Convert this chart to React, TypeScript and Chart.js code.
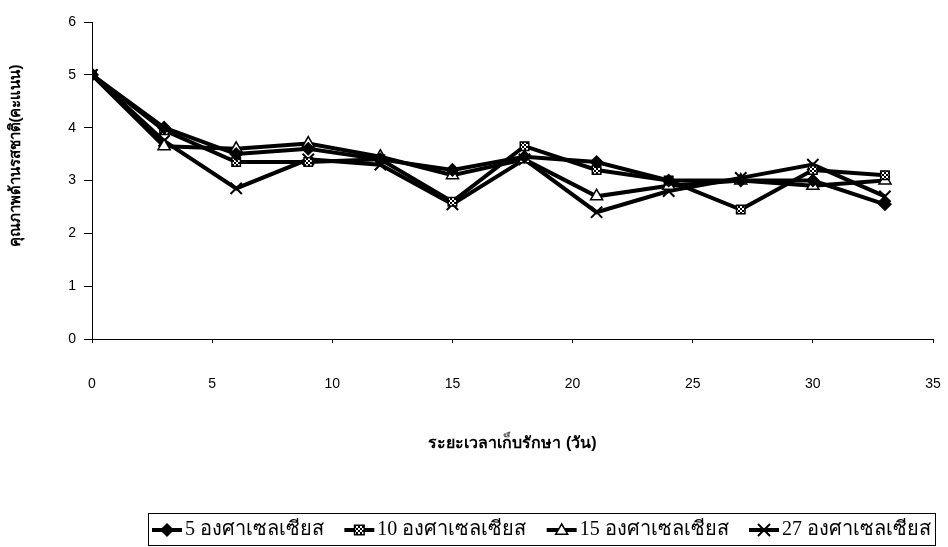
import React, { useEffect, useRef } from 'react';
import { Chart, registerables } from 'chart.js';

Chart.register(...registerables);

const days = [0, 3, 6, 9, 12, 15, 18, 21, 24, 27, 30, 33];
const temp5 = [5, 4.0, 3.5, 3.6, 3.4, 3.2, 3.45, 3.35, 3.0, 3.0, 3.0, 2.55];
const temp10 = [5, 3.95, 3.35, 3.35, 3.4, 2.6, 3.65, 3.2, 3.0, 2.45, 3.2, 3.1];
const temp15 = [5, 3.65, 3.6, 3.7, 3.45, 3.1, 3.4, 2.7, 2.9, 3.0, 2.9, 3.0];
const temp27 = [5, 3.75, 2.85, 3.4, 3.3, 2.55, 3.4, 2.4, 2.8, 3.05, 3.3, 2.7];
const seriesLabels = ['5 องศาเซลเซียส', '10 องศาเซลเซียส', '15 องศาเซลเซียส', '27 องศาเซลเซียส'];
const xTitle = 'ระยะเวลาเก็บรักษา (วัน)';
const yTitle = 'คุณภาพด้านรสชาติ(คะแนน)';
const xMin = 0, xMax = 35, xStep = 5;
const yMin = 0, yMax = 6, yStep = 1;

function makeChecker(): CanvasPattern | string {
  const c = document.createElement('canvas');
  c.width = 4; c.height = 4;
  const g = c.getContext('2d');
  if (!g) return '#777';
  g.fillStyle = '#fff'; g.fillRect(0, 0, 4, 4);
  g.fillStyle = '#000';
  g.fillRect(0, 0, 2, 2); g.fillRect(2, 2, 2, 2);
  const p = g.createPattern(c, 'repeat');
  return p || '#777';
}

function drawMarker(ctx: CanvasRenderingContext2D, style: string, x: number, y: number, r: number, fill: any) {
  ctx.save();
  ctx.lineWidth = 1.5;
  ctx.strokeStyle = '#000';
  ctx.fillStyle = fill;
  ctx.beginPath();
  if (style === 'rectRot') {
    ctx.moveTo(x, y - r); ctx.lineTo(x + r, y); ctx.lineTo(x, y + r); ctx.lineTo(x - r, y); ctx.closePath();
    ctx.fill(); ctx.stroke();
  } else if (style === 'rect') {
    ctx.rect(x - r * 0.8, y - r * 0.8, r * 1.6, r * 1.6);
    ctx.fill(); ctx.stroke();
  } else if (style === 'triangle') {
    ctx.moveTo(x, y - r); ctx.lineTo(x + r, y + r * 0.7); ctx.lineTo(x - r, y + r * 0.7); ctx.closePath();
    ctx.fill(); ctx.stroke();
  } else {
    ctx.lineWidth = 2;
    ctx.moveTo(x - r, y - r); ctx.lineTo(x + r, y + r);
    ctx.moveTo(x + r, y - r); ctx.lineTo(x - r, y + r);
    ctx.stroke();
  }
  ctx.restore();
}

const legendPlugin = {
  id: 'boxLegend',
  afterDraw(chart: any) {
    const ctx: CanvasRenderingContext2D = chart.ctx;
    ctx.save();
    ctx.font = '20px "Liberation Serif", "DejaVu Serif", serif';
    const lineLen = 30, gap1 = 3, padX = 4;
    const ds = chart.data.datasets;
    const widths = ds.map((d: any) => ctx.measureText(d.label).width);
    const left = 148, right = 935, top = 513, h = 32;
    const content = widths.reduce((a: number, w: number) => a + lineLen + gap1 + w, 0);
    const gap2 = Math.max((right - left - padX * 2 - content) / Math.max(ds.length - 1, 1), 4);
    ctx.strokeStyle = '#000';
    ctx.lineWidth = 1;
    ctx.setLineDash([]);
    ctx.strokeRect(left + 0.5, top + 0.5, right - left, h);
    let x = left + padX;
    const my = top + h / 2 + 1;
    ds.forEach((d: any, i: number) => {
      ctx.beginPath();
      ctx.lineWidth = 4;
      ctx.strokeStyle = '#000';
      ctx.moveTo(x, my); ctx.lineTo(x + lineLen, my);
      ctx.stroke();
      drawMarker(ctx, d.pointStyle, x + lineLen / 2, my, 6, d.pointBackgroundColor);
      x += lineLen + gap1;
      ctx.fillStyle = '#000';
      ctx.textBaseline = 'middle';
      ctx.textAlign = 'left';
      ctx.fillText(d.label, x, my);
      x += widths[i] + gap2;
    });
    // y-axis title
    ctx.translate(16, 156);
    ctx.rotate(-Math.PI / 2);
    ctx.font = 'bold 15px "Liberation Sans", sans-serif';
    ctx.textAlign = 'center';
    ctx.textBaseline = 'middle';
    ctx.fillStyle = '#000';
    ctx.fillText(yTitle, 0, 0);
    ctx.restore();
  },
};

export default function App() {
  const ref = useRef<HTMLCanvasElement | null>(null);
  useEffect(() => {
    if (!ref.current) return;
    const checker = makeChecker();
    const mk = (vals: number[]) => days.map((d, i) => ({ x: d, y: vals[i] }));
    const base = { borderColor: '#000', borderWidth: 4, pointBorderColor: '#000', pointBorderWidth: 1.5, showLine: true, fill: false, tension: 0 };
    const chart = new Chart(ref.current, {
      type: 'scatter',
      data: {
        datasets: [
          { ...base, label: seriesLabels[0], data: mk(temp5), pointStyle: 'rectRot', pointRadius: 6, pointBackgroundColor: '#000' },
          { ...base, label: seriesLabels[1], data: mk(temp10), pointStyle: 'rect', pointRadius: 6, pointBackgroundColor: checker },
          { ...base, label: seriesLabels[2], data: mk(temp15), pointStyle: 'triangle', pointRadius: 7, pointBackgroundColor: '#fff' },
          { ...base, label: seriesLabels[3], data: mk(temp27), pointStyle: 'crossRot', pointRadius: 8, pointBorderWidth: 2, pointBackgroundColor: '#000' },
        ] as any,
      },
      options: {
        animation: false,
        responsive: false,
        maintainAspectRatio: false,
        layout: { padding: { top: 22, right: 15, bottom: 78, left: 0 } },
        plugins: { legend: { display: false }, tooltip: { enabled: false } },
        scales: {
          x: {
            type: 'linear', min: xMin, max: xMax,
            afterFit: (s: any) => { s.height = 130; s.paddingLeft = 0; s.paddingRight = 0; },
            ticks: { stepSize: xStep, padding: 33, color: '#000', font: { family: '"Liberation Sans", Arial, sans-serif', size: 14 } },
            grid: { drawOnChartArea: false, drawTicks: true, tickLength: 4, color: '#000' },
            border: { display: true, color: '#000', width: 1 },
            title: { display: true, text: xTitle, color: '#000', font: { family: '"Liberation Sans", sans-serif', size: 16, weight: 'bold' }, padding: { top: 0, bottom: 16 } },
          },
          y: {
            type: 'linear', min: yMin, max: yMax,
            afterFit: (s: any) => { s.width = 92; s.paddingTop = 0; s.paddingBottom = 0; },
            ticks: { stepSize: yStep, padding: 8, color: '#000', font: { family: '"Liberation Sans", Arial, sans-serif', size: 14 } },
            grid: { drawOnChartArea: false, drawTicks: true, tickLength: 8, color: '#000' },
            border: { display: true, color: '#000', width: 1, dash: [2, 2] },
            title: { display: false, text: yTitle },
          },
        },
      } as any,
      plugins: [legendPlugin],
    });
    return () => chart.destroy();
  }, []);
  return (
    <div style={{ position: 'fixed', left: 0, top: 0, width: 948, height: 547, background: '#fff' }}>
      <canvas ref={ref} width={948} height={547} style={{ width: 948, height: 547, display: 'block' }} />
    </div>
  );
}
